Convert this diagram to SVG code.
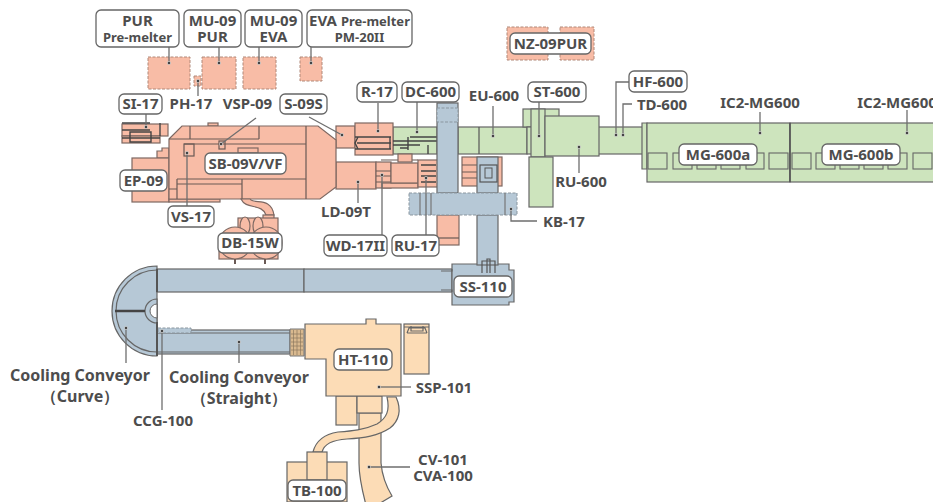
<svg xmlns="http://www.w3.org/2000/svg" width="933" height="502" viewBox="0 0 933 502">
<style>
text{font-family:"Noto Sans","Open Sans","Liberation Sans",sans-serif;font-weight:700;font-size:15px;fill:#4d4d4d;text-anchor:middle}
.s{font-size:13px}
.m{font-size:16px}
.l{fill:#fff;stroke:#666;stroke-width:1.3}
.p{fill:#f8bca6;stroke:#7d6862;stroke-width:1.2}
.pd{fill:#f8bca6;stroke:#b08878;stroke-width:1;stroke-dasharray:3 1.500}
.g{fill:#cde4bd;stroke:#666;stroke-width:1.2}
.b{fill:#b6c8d6;stroke:#666;stroke-width:1.2}
.bd{fill:#b6c8d6;stroke:#8a969f;stroke-width:1;stroke-dasharray:3 1.500}
.t{fill:#fcdcb6;stroke:#666;stroke-width:1.2}
.i{fill:none;stroke:#6a5a55;stroke-width:1.2}
.k{fill:none;stroke:#444;stroke-width:1.4}
.c{fill:none;stroke:#6e6e6e;stroke-width:1.3;marker-start:url(#dot)}
</style>
<defs>
<marker id="dot" markerWidth="5" markerHeight="5" refX="2.5" refY="2.5" markerUnits="userSpaceOnUse"><circle cx="2.5" cy="2.5" r="1.7" fill="#444" stroke="#fff" stroke-width=".5"/></marker>
</defs>

<g id="equipment-premelters">
<rect class="pd" x="148" y="57" width="42" height="32"/>
<rect class="pd" x="202" y="57" width="34" height="32"/>
<rect class="pd" x="243" y="57" width="33" height="32"/>
<rect class="pd" x="300" y="57" width="22" height="24"/>
<rect class="pd" x="194" y="76" width="7" height="10"/>
<rect class="pd" x="507" y="27" width="41" height="33"/>
<rect class="pd" x="560" y="27" width="34" height="33"/>
</g>

<g id="equipment-cooling">
<path class="b" d="M157 266A45 45 0 0 0 157 356Z"/>
<path class="i" style="stroke:#666" d="M157 270A41 41 0 0 0 157 352"/>
<path d="M157 299A12 12 0 0 0 157 323Z" fill="#b6c8d6" stroke="#666" stroke-width="1.2"/>
<path d="M157 304A7 7 0 0 0 157 318Z" fill="#fff" stroke="#666"/>
<path d="M115 311H145" stroke="#444" stroke-width="2.500"/>
<rect class="b" x="157" y="269" width="147" height="23"/>
<rect class="b" x="304" y="269" width="148" height="23"/>
<rect class="b" x="157" y="330" width="133" height="24"/>
<path class="i" style="stroke:#666" d="M158 333H290M158 352H290"/>
<rect class="bd" x="158" y="328" width="33" height="5"/>
<path d="M157 269V292M157 322V356" stroke="#555" stroke-width="2"/>
<path d="M290 329H304V356H290Z" fill="#d9b98f" stroke="#777"/>
<path d="M293.500 330V355M297 330V355M300.500 330V355M291 334H303M291 338H303M291 342H303M291 346H303M291 350H303" stroke="#8d7a60" stroke-width=".7" fill="none"/>
<path class="b" d="M452 264H509V270H514V302H509V305H452Z"/>
<path class="i" style="stroke:#666" d="M441 271H452V269M441 290H452V292"/>
<rect class="b" x="477" y="215" width="21" height="50"/>
<path class="i" style="stroke:#555" d="M482 273V261H495V273M487 273V259H490V273"/>
</g>

<g id="equipment-hotmelt">
<rect class="t" x="336" y="396" width="21" height="29"/>
<path class="t" d="M359 413H381V463C382 475 386 486 392 496L377 505H366C362 490 359 478 359 463Z"/>
<path class="t" d="M313 452C316 440 326 434 338 432C352 431 364 430 377 424C387 418 390 410 387 397H396C402 410 399 421 390 428C378 436 364 438 347 439C332 440 324 444 322 452Z"/>
<rect class="t" x="357" y="396" width="25" height="17"/>
<path class="t" d="M305 324H366V319H376V324H401V396H326V359H305Z"/>
<rect class="t" x="404" y="324" width="25" height="50"/>
<path class="i" style="stroke:#666" d="M404 327H429M407 333L409 328H425L427 333M407 333H427M411 326V331H423V326"/>
<rect class="t" x="287" y="462" width="60" height="40"/>
<rect class="t" x="307" y="452" width="20" height="28"/>
</g>

<g id="equipment-lamination">
<rect class="p" x="437" y="215" width="22" height="30"/>
<path class="i" d="M437 238H459"/>
<rect class="p" x="462" y="157" width="40" height="29"/>
<path class="i" d="M462 165H477M462 172H477M462 178H477"/>
<rect class="b" x="477" y="157" width="21" height="36"/>
<rect x="480" y="165" width="17" height="17" fill="none" stroke="#555" stroke-width="1.2"/>
<rect x="485" y="168" width="7" height="10" fill="none" stroke="#555"/>
<rect class="p" x="336" y="162" width="40" height="27"/>
<rect class="p" x="376" y="162" width="15" height="26"/>
<path class="i" d="M376 171H391M376 176H391M376 182H391M381 160H418"/>
<rect class="p" x="382" y="183" width="36" height="5"/>
<rect class="p" x="391" y="163" width="27" height="20"/>
<rect class="p" x="418" y="160" width="20" height="27"/>
<path class="k" d="M421 165H436M421 171H436M421 176H436M421 182H436"/>
<rect class="g" x="393" y="127" width="44" height="27"/>
<rect class="g" x="458" y="127" width="69" height="27"/>
<path class="i" style="stroke:#555" d="M479 127V154"/>
<rect class="p" x="336" y="126" width="19" height="22"/>
<rect class="p" x="355" y="123" width="38" height="32"/>
<path class="k" d="M355 137H391M357 143H391M355 149H391M358 137L355 143L358 149M390 137V149"/>
<path class="k" d="M393 141H437M410 137H437M400 148H408M408 137V150M393 145H420M428 145V154"/>
<rect class="p" x="398" y="154" width="14" height="8"/>
<rect class="b" x="437" y="103" width="21" height="90"/>
<rect class="bd" x="437" y="108" width="21" height="14"/>
<rect class="bd" x="409" y="193" width="108" height="22"/>
<path class="i" style="stroke:#777" d="M420 193V215M431 193V215M505 193V215"/>
</g>

<g id="equipment-extruder">
<rect class="p" x="122" y="124" width="46" height="12"/>
<rect class="p" x="122" y="136" width="38" height="7"/>
<path class="k" d="M122 123H150M122 130H150M130 132H151V142H130ZM122 138H160M160 123V136"/>
<path class="p" d="M162 148H169V158H157V151H162Z"/>
<rect class="p" x="132" y="158" width="37" height="44"/>
<rect class="p" x="169" y="199" width="51" height="3"/>
<rect class="p" x="208" y="123" width="10" height="3"/>
<path class="p" d="M169 139L182 126H318L336 140V187L320 199H169Z"/>
<path class="i" d="M169 139H259M190 126V139M259 126V139M306 126V199M184 144H306M177 179H306M177 179V199M242 179V199M169 189H177M177 184H242"/>
<rect class="i" x="184" y="144" width="10" height="12"/>
<rect class="i" x="219" y="141" width="6" height="8"/>
<rect class="p" x="238" y="148" width="20" height="5"/>
<path class="p" d="M241 199C246 210 262 203 266 215H274C271 196 254 205 250 199Z"/>
<rect class="p" x="263" y="215" width="11" height="4"/>
<rect class="p" x="238" y="218" width="40" height="17"/>
<ellipse class="p" cx="245" cy="226" rx="5" ry="9"/>
<ellipse class="p" cx="258" cy="226" rx="5" ry="9"/>
<rect class="p" x="219" y="245" width="59" height="14"/>
<circle class="p" cx="235" cy="243" r="16"/>
<circle class="p" cx="266" cy="243" r="16"/>
<path class="i" style="stroke-width:2" d="M235 259V264M265 259V264"/>
</g>

<g id="equipment-green-line">
<rect class="g" x="523" y="109" width="36" height="18"/>
<rect class="g" x="527" y="127" width="120" height="27"/>
<rect class="g" x="531" y="109" width="14" height="48"/>
<rect class="g" x="545" y="116" width="54" height="40"/>
<rect class="g" x="529" y="157" width="24" height="50"/>
<path class="g" d="M642 123H647V169H642Z"/>
<rect class="g" x="647" y="123" width="143" height="59"/>
<rect class="g" x="790" y="123" width="144" height="59"/>
<path d="M790 123V182" stroke="#555" stroke-width="1.500"/>
<g fill="none" stroke="#666" stroke-width="1.100">
<rect x="648" y="153" width="19" height="16"/><rect x="673" y="153" width="19" height="16"/><rect x="697" y="153" width="19" height="16"/><rect x="721" y="153" width="19" height="16"/><rect x="746" y="153" width="18" height="16"/><rect x="769" y="153" width="19" height="16"/>
<rect x="792" y="153" width="19" height="16"/><rect x="816" y="153" width="19" height="16"/><rect x="840" y="153" width="19" height="16"/><rect x="864" y="153" width="19" height="16"/><rect x="888" y="153" width="19" height="16"/><rect x="913" y="153" width="19" height="16"/>
</g>
</g>

<g id="connectors">
<path class="c" d="M169 63V47"/>
<path class="c" d="M219 63V47"/>
<path class="c" d="M259 63V47"/>
<path class="c" d="M311 63V47"/>
<path class="c" d="M198 81V96"/>
<path class="c" d="M146 127V114"/>
<path class="c" d="M187 153V206"/>
<path class="c" d="M221 144L256 118"/>
<path class="c" d="M342 135L309 117"/>
<path class="c" d="M378 131V103"/>
<path class="c" d="M417 132V102"/>
<path class="c" d="M493 136V106"/>
<path class="c" d="M539 136V102"/>
<path class="c" d="M616 135V82H629"/>
<path class="c" d="M623 135V104H632"/>
<path class="c" d="M760 133V112"/>
<path class="c" d="M907 133V110"/>
<path class="c" d="M579 147V173"/>
<path class="c" d="M511 209V221H537"/>
<path class="c" d="M358 182V203"/>
<path class="c" d="M382 175V235"/>
<path class="c" d="M426 178V235"/>
<path class="c" d="M239 342V363"/>
<path class="c" d="M126 328V363"/>
<path class="c" d="M162 331V410"/>
<path class="c" d="M379 387H411"/>
<path class="c" d="M369 467H410"/>
</g>

<g id="label-pur"><rect class="l" x="96" y="10" width="83" height="37" rx="5"/><text x="137.500" y="26">PUR</text><text class="s" x="137.500" y="42">Pre-melter</text></g>
<g id="label-mu09pur"><rect class="l" x="184" y="10" width="57" height="37" rx="5"/><text x="212.500" y="26">MU-09</text><text x="212.500" y="42">PUR</text></g>
<g id="label-mu09eva"><rect class="l" x="245" y="10" width="57" height="37" rx="5"/><text x="273.500" y="26">MU-09</text><text x="273.500" y="42">EVA</text></g>
<g id="label-eva"><rect class="l" x="307" y="10" width="105" height="37" rx="5"/><text x="359.500" y="26"><tspan>EVA </tspan><tspan class="s">Pre-melter</tspan></text><text class="s" x="359.500" y="42">PM-20II</text></g>
<g id="label-nz09pur"><rect class="l" x="510" y="33" width="81" height="21" rx="5"/><text x="550.500" y="49">NZ-09PUR</text></g>
<g id="label-si17"><rect class="l" x="119" y="94" width="43" height="20" rx="5"/><text x="140.500" y="109">SI-17</text></g>
<g id="label-ph17"><text x="191" y="109">PH-17</text></g>
<g id="label-vsp09"><text x="247.500" y="109">VSP-09</text></g>
<g id="label-s09s"><rect class="l" x="280" y="94" width="47" height="20" rx="5"/><text x="303.500" y="109">S-09S</text></g>
<g id="label-r17"><rect class="l" x="357" y="82" width="40" height="20" rx="5"/><text x="377" y="97">R-17</text></g>
<g id="label-dc600"><rect class="l" x="402" y="82" width="57" height="20" rx="5"/><text x="430.500" y="97">DC-600</text></g>
<g id="label-eu600"><text x="494" y="101">EU-600</text></g>
<g id="label-st600"><rect class="l" x="528" y="82" width="58" height="20" rx="5"/><text x="557" y="97">ST-600</text></g>
<g id="label-hf600"><rect class="l" x="629" y="71" width="58" height="21" rx="5"/><text x="658" y="87">HF-600</text></g>
<g id="label-td600"><text x="662" y="110">TD-600</text></g>
<g id="label-ic2a"><text x="760" y="108">IC2-MG600</text></g>
<g id="label-ic2b"><text x="897" y="108">IC2-MG600</text></g>
<g id="label-mg600a"><rect class="l" x="679" y="144" width="78" height="21" rx="5"/><text x="718" y="160">MG-600a</text></g>
<g id="label-mg600b"><rect class="l" x="822" y="144" width="78" height="21" rx="5"/><text x="861" y="160">MG-600b</text></g>
<g id="label-sb09"><rect class="l" x="205" y="153" width="81" height="21" rx="5"/><text x="245.500" y="169">SB-09V/VF</text></g>
<g id="label-ep09"><rect class="l" x="120" y="170" width="47" height="21" rx="5"/><text x="143.500" y="186">EP-09</text></g>
<g id="label-ru600"><text x="581" y="187">RU-600</text></g>
<g id="label-ld09t"><text x="346" y="217">LD-09T</text></g>
<g id="label-vs17"><rect class="l" x="168" y="206" width="46" height="21" rx="5"/><text x="191" y="222">VS-17</text></g>
<g id="label-kb17"><text x="564" y="227">KB-17</text></g>
<g id="label-db15w"><rect class="l" x="218" y="233" width="64" height="20" rx="5"/><text x="250" y="248">DB-15W</text></g>
<g id="label-wd17"><rect class="l" x="324" y="235" width="63" height="21" rx="5"/><text x="355.500" y="251">WD-17II</text></g>
<g id="label-ru17"><rect class="l" x="392" y="235" width="47" height="21" rx="5"/><text x="415.500" y="251">RU-17</text></g>
<g id="label-ss110"><rect class="l" x="454" y="276" width="58" height="21" rx="5"/><text x="483" y="292">SS-110</text></g>
<g id="label-ht110"><rect class="l" x="334" y="349" width="58" height="21" rx="5"/><text x="363" y="365">HT-110</text></g>
<g id="label-ssp101"><text x="444" y="393">SSP-101</text></g>
<g id="label-curve"><text class="m" x="80" y="381">Cooling Conveyor</text><text class="m" x="80" y="402">（Curve）</text></g>
<g id="label-straight"><text class="m" x="239" y="383">Cooling Conveyor</text><text class="m" x="239" y="404">（Straight）</text></g>
<g id="label-ccg"><text x="163" y="426">CCG-100</text></g>
<g id="label-cv"><text x="443" y="465">CV-101</text><text x="443" y="481">CVA-100</text></g>
<g id="label-tb100"><rect class="l" x="288" y="480" width="58" height="21" rx="5"/><text x="317" y="496">TB-100</text></g>
</svg>
